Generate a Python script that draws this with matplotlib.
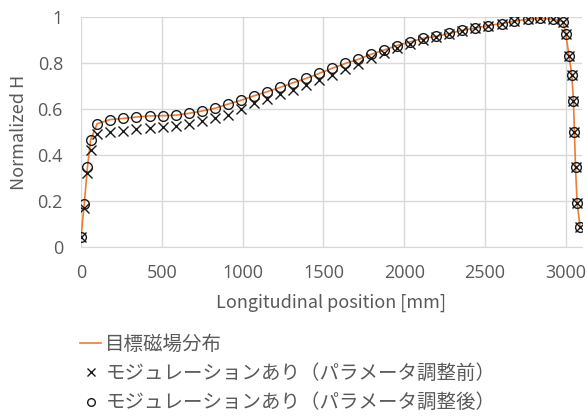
import numpy as np
import matplotlib
matplotlib.use("Agg")
import matplotlib.pyplot as plt
from matplotlib.lines import Line2D

plt.rcParams['font.family'] = ['Noto Sans CJK JP', 'DejaVu Sans']

## Data
position = [0, 20, 40, 60, 100, 180, 262, 343, 424, 505, 586, 667, 748, 828,
            909, 990, 1070, 1151, 1232, 1312, 1393, 1474, 1554, 1635, 1716,
            1796, 1877, 1957, 2038, 2118, 2199, 2280, 2360, 2441, 2521, 2602,
            2682, 2763, 2843, 2920, 2980, 3000, 3020, 3037, 3047, 3053, 3060,
            3070, 3088]

# target field distribution (orange line)
target = [0.042, 0.185, 0.348, 0.467, 0.536, 0.554, 0.559, 0.565, 0.570, 0.571,
          0.573, 0.581, 0.591, 0.603, 0.621, 0.638, 0.657, 0.675, 0.694, 0.714,
          0.733, 0.755, 0.777, 0.798, 0.816, 0.838, 0.857, 0.876, 0.892, 0.907,
          0.916, 0.929, 0.942, 0.952, 0.963, 0.971, 0.982, 0.990, 0.994, 0.991,
          0.980, 0.925, 0.830, 0.748, 0.636, 0.502, 0.346, 0.190, 0.088]

# modulation, before parameter adjustment (x)
before = [0.042, 0.168, 0.320, 0.420, 0.492, 0.501, 0.506, 0.511, 0.516, 0.520,
          0.526, 0.535, 0.546, 0.559, 0.574, 0.598, 0.625, 0.645, 0.665, 0.683,
          0.704, 0.726, 0.750, 0.775, 0.795, 0.820, 0.842, 0.866, 0.884, 0.900,
          0.912, 0.926, 0.940, 0.951, 0.962, 0.970, 0.981, 0.990, 0.994, 0.990,
          0.980, 0.925, 0.830, 0.748, 0.636, 0.502, 0.346, 0.190, 0.088]

# modulation, after parameter adjustment (o)
after = [0.042, 0.185, 0.348, 0.467, 0.536, 0.554, 0.559, 0.565, 0.570, 0.571,
         0.573, 0.581, 0.591, 0.603, 0.621, 0.638, 0.657, 0.675, 0.694, 0.714,
         0.733, 0.755, 0.777, 0.798, 0.816, 0.838, 0.857, 0.876, 0.892, 0.907,
         0.916, 0.929, 0.942, 0.952, 0.963, 0.971, 0.982, 0.990, 0.994, 0.991,
         0.980, 0.925, 0.830, 0.748, 0.636, 0.502, 0.346, 0.190, 0.088]

labels = ["目標磁場分布",
          "モジュレーションあり（パラメータ調整前）",
          "モジュレーションあり（パラメータ調整後）"]

orange = "#ED7D31"
gray = "#595959"

fig = plt.figure(figsize=(5.88, 4.17), dpi=100)
ax = fig.add_axes([81/588, 1 - 247/417, 501/588, 230/417])

ax.plot(position, target, color=orange, lw=1.2, zorder=2)
ax.plot(position, before, ls="none", marker="x", ms=6.5, mew=1.0, color="#1a1a1a", zorder=3)
ax.plot(position, after, ls="none", marker="o", ms=7, mew=1.0, mfc="none",
        mec="#1a1a1a", zorder=4)

ax.set_xlim(0, 3100)
ax.set_ylim(0, 1)
ax.set_xticks([0, 500, 1000, 1500, 2000, 2500, 3000])
ax.set_yticks([0, 0.2, 0.4, 0.6, 0.8, 1])
ax.set_yticklabels(["0", "0.2", "0.4", "0.6", "0.8", "1"])
ax.grid(True, color="#d9d9d9", lw=1)
ax.set_axisbelow(True)
for s in ["top", "right", "left"]:
    ax.spines[s].set_visible(False)
ax.spines["bottom"].set_color("#d9d9d9")
ax.tick_params(length=0, labelsize=13, labelcolor=gray)
for lbl in ax.get_xticklabels() + ax.get_yticklabels():
    lbl.set_family("Open Sans")
ax.tick_params(axis="y", pad=13)
ax.tick_params(axis="x", pad=12)

ax.set_ylabel("Normalized H", fontsize=13, color=gray)
ax.yaxis.set_label_coords(-0.106, 0.5)
ax.set_xlabel("Longitudinal position [mm]", fontsize=13, color=gray)
ax.xaxis.set_label_coords(0.5, -0.203)

handles = [Line2D([], [], color=orange, lw=1.2),
           Line2D([], [], ls="none", marker="x", ms=5.5, mew=1.0, color="#1a1a1a"),
           Line2D([], [], ls="none", marker="o", ms=5.5, mew=1.0, mfc="none", mec="#1a1a1a")]
leg = fig.legend(handles, labels, loc="upper left", bbox_to_anchor=(80/588, 1 - 334/417),
                 frameon=False, fontsize=14, handlelength=1.1, handletextpad=0.2,
                 labelspacing=0.42, borderpad=0, borderaxespad=0)
for t in leg.get_texts():
    t.set_color(gray)

fig.savefig("out.png", dpi=100)
